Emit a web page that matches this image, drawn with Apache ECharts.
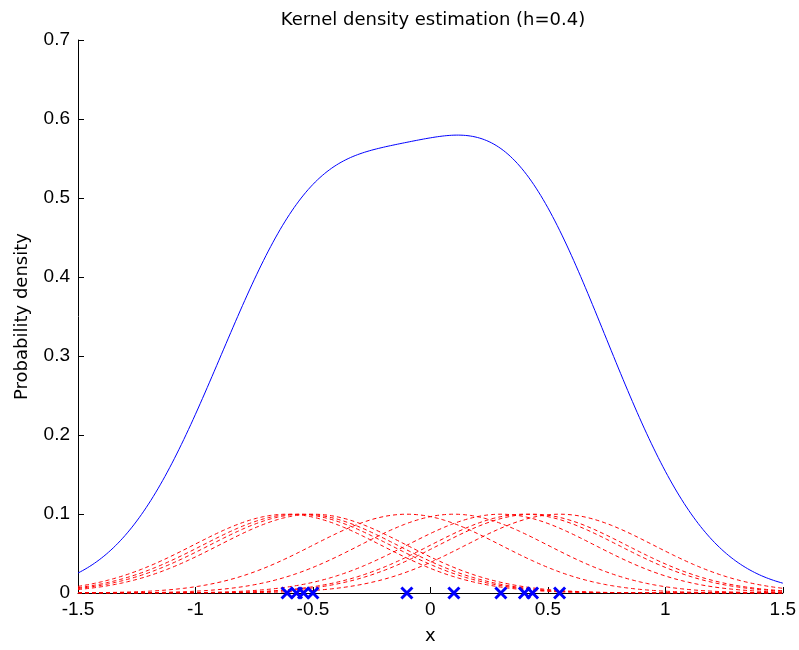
<!DOCTYPE html>
<html>
<head>
<meta charset="utf-8">
<script src="https://cdn.jsdelivr.net/npm/echarts@6/dist/echarts.min.js"></script>
<style>html,body{margin:0;padding:0;background:#fff}#c{width:799px;height:650px}</style>
</head>
<body>
<div id="c"></div>
<script>
// Sample points (blue crosses)
var samples = [-0.61, -0.57, -0.54, -0.50, -0.10, 0.10, 0.30, 0.40, 0.435, 0.55];
var bandwidth = 0.4;
var xTicks = [-1.5, -1, -0.5, 0, 0.5, 1, 1.5];
var yTicks = [0, 0.1, 0.2, 0.3, 0.4, 0.5, 0.6, 0.7];
var xRange = [-1.5, 1.5];

var N = samples.length;
var gridX = [];
for (var i = 0; i <= 300; i++) gridX.push(xRange[0] + (xRange[1] - xRange[0]) * i / 300);
function kernel(x, xi) {
  var u = (x - xi) / bandwidth;
  return Math.exp(-0.5 * u * u) / (N * bandwidth * Math.sqrt(2 * Math.PI));
}
var series = [];
var total = gridX.map(function () { return 0; });
samples.forEach(function (xi) {
  var d = gridX.map(function (x, k) { var v = kernel(x, xi); total[k] += v; return [x, v]; });
  series.push({
    type: 'line', data: d, showSymbol: false, silent: true, z: 2,
    lineStyle: { color: '#ff0000', width: 1, type: [4, 3] }
  });
});
series.push({
  type: 'line', data: gridX.map(function (x, k) { return [x, total[k]]; }),
  showSymbol: false, silent: true, z: 3,
  lineStyle: { color: '#0000ff', width: 1 }
});
series.push({
  type: 'scatter', data: samples.map(function (x) { return [x, 0]; }), z: 5,
  symbol: 'path://M0,0L10,10M10,0L0,10', symbolSize: 11,
  itemStyle: { color: 'rgba(0,0,0,0)', borderColor: '#0000ff', borderWidth: 3, opacity: 1 }
});

var font = 'DejaVu Sans';
var tickFont = 'Liberation Sans';
var chart = echarts.init(document.getElementById('c'));
chart.setOption({
  animation: false,
  title: {
    text: 'Kernel density estimation (h=0.4)', left: 428, top: 6, textAlign: 'center',
    textStyle: { fontFamily: font, fontSize: 18, fontWeight: 'normal', color: '#000' }
  },
  grid: { left: 78, right: 16, top: 40, bottom: 56, containLabel: false },
  xAxis: {
    type: 'value', min: xRange[0], max: xRange[1], interval: 0.5,
    name: 'x', nameLocation: 'middle', nameGap: 34,
    nameTextStyle: { fontFamily: font, fontSize: 18, color: '#000' },
    axisLine: { onZero: false, lineStyle: { color: '#000', width: 1 } },
    axisTick: { inside: true, length: 6, lineStyle: { color: '#000' } },
    axisLabel: { fontFamily: tickFont, fontSize: 19, color: '#000', margin: 7,
      formatter: function (v) { return String(v); } },
    splitLine: { show: false }
  },
  yAxis: {
    type: 'value', min: 0, max: 0.7, interval: 0.1,
    name: 'Probability density', nameLocation: 'middle', nameGap: 47,
    nameTextStyle: { fontFamily: font, fontSize: 18, color: '#000' },
    axisLine: { show: true, onZero: false, lineStyle: { color: '#000', width: 1 } },
    axisTick: { show: true, inside: true, length: 6, lineStyle: { color: '#000' } },
    axisLabel: { fontFamily: tickFont, fontSize: 19, color: '#000', margin: 8,
      formatter: function (v) { return String(Math.round(v * 10) / 10); } },
    splitLine: { show: false }
  },
  series: series
});
</script>
</body>
</html>
